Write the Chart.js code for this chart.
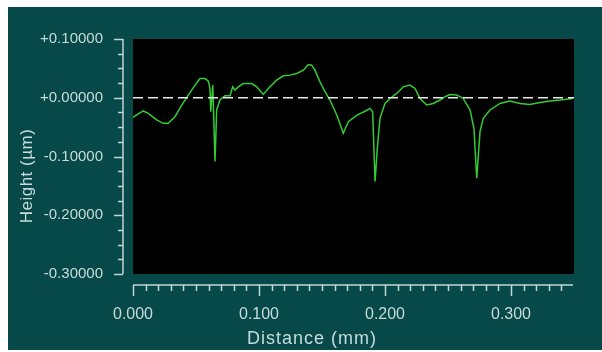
<!DOCTYPE html>
<html><head><meta charset="utf-8">
<script src="https://cdn.jsdelivr.net/npm/chart.js@4/dist/chart.umd.min.js"></script>
<style>html,body{margin:0;padding:0;background:#fff}canvas{display:block}</style>
</head><body>
<canvas id="c" width="602" height="352"></canvas>
<script>
// Profile data
const distanceMm = [0.0000,0.0029,0.0082,0.0121,0.0188,0.0240,0.0280,0.0333,0.0387,0.0439,0.0492,0.0532,0.0571,0.0598,0.0611,0.0617,0.0625,0.0633,0.0651,0.0664,0.0690,0.0730,0.0770,0.0791,0.0810,0.0836,0.0875,0.0942,0.0982,0.1034,0.1074,0.1140,0.1193,0.1246,0.1299,0.1352,0.1391,0.1418,0.1444,0.1484,0.1524,0.1563,0.1617,0.1669,0.1709,0.1775,0.1841,0.1881,0.1902,0.1921,0.1939,0.1960,0.2000,0.2040,0.2093,0.2145,0.2198,0.2238,0.2278,0.2331,0.2383,0.2437,0.2476,0.2516,0.2569,0.2621,0.2675,0.2706,0.2728,0.2754,0.2780,0.2833,0.2913,0.2992,0.3071,0.3151,0.3230,0.3310,0.3389,0.3490];
const heightUm   = [-0.0334,-0.0293,-0.0225,-0.0266,-0.0378,-0.0436,-0.0436,-0.0322,-0.0124,0.0046,0.0215,0.0327,0.0327,0.0283,0.0158,-0.0237,-0.0012,0.0215,-0.1085,-0.0208,-0.0039,0.0034,0.0034,0.0186,0.0131,0.0186,0.0242,0.0242,0.0186,0.0056,0.0158,0.0300,0.0373,0.0385,0.0412,0.0469,0.0564,0.0554,0.0469,0.0271,0.0102,-0.0039,-0.0293,-0.0605,-0.0407,-0.0300,-0.0230,-0.0181,-0.0237,-0.1424,-0.0859,-0.0351,-0.0097,-0.0012,0.0073,0.0186,0.0215,0.0158,-0.0012,-0.0124,-0.0097,-0.0039,0.0017,0.0056,0.0046,-0.0012,-0.0208,-0.0520,-0.1368,-0.0576,-0.0351,-0.0208,-0.0097,-0.0056,-0.0097,-0.0114,-0.0080,-0.0056,-0.0039,-0.0012];
const referenceLevel = [0, 0];
const referenceX = [0, 0.35];

// Axes
const xTickValues = [0, 0.1, 0.2, 0.3];
const yTickValues = [0.1, 0, -0.1, -0.2, -0.3];
const xRange = [0, 0.35];
const yRange = [-0.3, 0.1];
const xMinorStep = 0.01;
const yMinorStep = 0.025;
const xTitle = 'Distance (mm)';
const yTitle = 'Height (\u00b5m)';

const TEXT = '#c6dcdc';
const AXIS = '#c0d6d6';
const FONT = "'Liberation Sans', Arial, sans-serif";

const bgPlugin = {
  id: 'bg',
  beforeDraw(chart) {
    const {ctx, chartArea: a} = chart;
    ctx.save();
    ctx.fillStyle = '#ffffff';
    ctx.fillRect(0, 0, chart.width, chart.height);
    ctx.fillStyle = '#074848';
    ctx.fillRect(8, 7, chart.width - 8, 343);
    ctx.fillStyle = '#000000';
    ctx.fillRect(a.left, a.top, a.right - a.left, a.bottom - a.top);
    ctx.restore();
  },
  afterDraw(chart) {
    const {ctx, chartArea: a} = chart;
    const xs = chart.scales.x, ys = chart.scales.y;
    ctx.save();
    ctx.strokeStyle = AXIS;
    ctx.lineWidth = 1.5;
    // y axis line (detached)
    const yx = a.left - 10;
    ctx.beginPath();
    ctx.moveTo(yx, ys.getPixelForValue(yRange[1]));
    ctx.lineTo(yx, ys.getPixelForValue(yRange[0]));
    ctx.stroke();
    const nY = Math.round((yRange[1] - yRange[0]) / yMinorStep);
    for (let i = 0; i <= nY; i++) {
      const v = yRange[0] + i * yMinorStep;
      const py = Math.round(ys.getPixelForValue(v)) + 0.5;
      const major = i % 4 === 0;
      ctx.beginPath();
      ctx.moveTo(yx - (major ? 9 : 5), py);
      ctx.lineTo(yx, py);
      ctx.stroke();
    }
    // x axis line (detached)
    const xy = a.bottom + 11;
    ctx.beginPath();
    ctx.moveTo(xs.getPixelForValue(xRange[0]), xy);
    ctx.lineTo(a.right - 1, xy);
    ctx.stroke();
    for (let i = 0; i <= 34; i++) {
      const v = xRange[0] + i * xMinorStep;
      const px = Math.round(xs.getPixelForValue(v)) + 0.5;
      const major = i % 10 === 0;
      ctx.beginPath();
      ctx.moveTo(px, xy);
      ctx.lineTo(px, xy + (major ? 11 : 6));
      ctx.stroke();
    }
    // axis titles
    ctx.fillStyle = TEXT;
    ctx.textAlign = 'center';
    ctx.textBaseline = 'middle';
    ctx.font = '18px ' + FONT;
    ctx.letterSpacing = '1px';
    ctx.fillText(xTitle, 312, 339);
    ctx.font = '17px ' + FONT;
    ctx.letterSpacing = '0.5px';
    ctx.translate(27, 176);
    ctx.rotate(-Math.PI / 2);
    ctx.fillText(yTitle, 0, 0);
    ctx.restore();
  }
};

const profile = distanceMm.map((d, i) => ({x: d, y: heightUm[i]}));
const refLine = referenceX.map((d, i) => ({x: d, y: referenceLevel[i]}));

new Chart(document.getElementById('c'), {
  type: 'line',
  data: {
    datasets: [
      {data: refLine, borderColor: '#e8e8e8', borderWidth: 1.5, borderDash: [10, 5], pointRadius: 0, order: 0},
      {data: profile, borderColor: '#33cc33', borderWidth: 1.5, pointRadius: 0, tension: 0, order: 1}
    ]
  },
  options: {
    responsive: false,
    animation: false,
    devicePixelRatio: 1,
    layout: {padding: {left: 0, top: 37, right: 28, bottom: 0}},
    plugins: {legend: {display: false}, tooltip: {enabled: false}},
    scales: {
      x: {
        type: 'linear', min: xRange[0], max: xRange[1],
        grid: {display: false, drawTicks: false},
        border: {display: false},
        afterBuildTicks: s => { s.ticks = xTickValues.map(v => ({value: v})); },
        afterFit: s => { s.height = 78; },
        ticks: {color: TEXT, padding: 31, maxRotation: 0, autoSkip: false,
                font: {family: FONT, size: 16}, callback: v => Number(v).toFixed(3)}
      },
      y: {
        type: 'linear', min: yRange[0], max: yRange[1],
        grid: {display: false, drawTicks: false},
        border: {display: false},
        afterBuildTicks: s => { s.ticks = yTickValues.map(v => ({value: v})); },
        afterFit: s => { s.width = 133; },
        ticks: {color: TEXT, padding: 30, autoSkip: false,
                font: {family: FONT, size: 15},
                callback: v => (v < -1e-9 ? '-' : '+') + Math.abs(v).toFixed(5)}
      }
    }
  },
  plugins: [bgPlugin]
});
</script>
</body></html>
